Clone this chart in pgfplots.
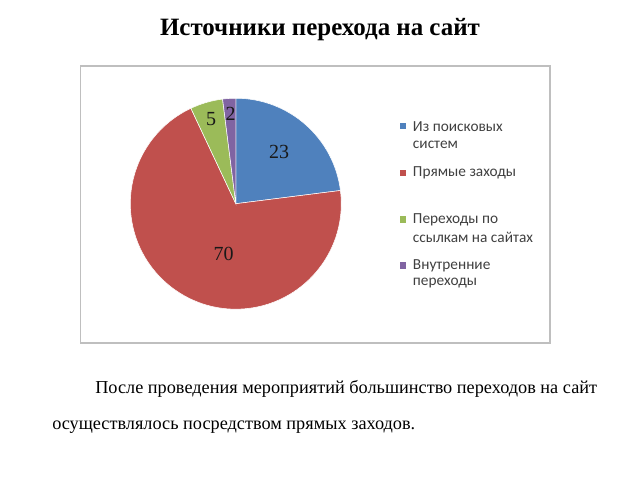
\documentclass[border=0pt]{standalone}
\usepackage{fontspec}
\setmainfont{Liberation Serif}
\newfontfamily\legfont{Carlito}
\usepackage{pgfplots}
\usepackage{pgfplotstable}
\pgfplotsset{compat=1.18}
\definecolor{cBlue}{HTML}{4F81BD}
\definecolor{cRed}{HTML}{C0504D}
\definecolor{cGreen}{HTML}{9BBB59}
\definecolor{cPurple}{HTML}{8064A2}
\definecolor{cFrame}{HTML}{BFBFBF}
\definecolor{cLeg}{HTML}{404040}

\pgfplotstableread{
key value
search 23
direct 70
links 5
internal 2
}\piedata

\pgfplotstablegetelem{0}{value}\of\piedata\edef\vA{\pgfplotsretval}
\pgfplotstablegetelem{1}{value}\of\piedata\edef\vB{\pgfplotsretval}
\pgfplotstablegetelem{2}{value}\of\piedata\edef\vC{\pgfplotsretval}
\pgfplotstablegetelem{3}{value}\of\piedata\edef\vD{\pgfplotsretval}
\pgfmathsetmacro\tot{\vA+\vB+\vC+\vD}
\pgfmathsetmacro\k{360/\tot}
\pgfmathsetmacro\aA{90}
\pgfmathsetmacro\aB{\aA-\k*\vA}
\pgfmathsetmacro\aC{\aB-\k*\vB}
\pgfmathsetmacro\aD{\aC-\k*\vC}
\pgfmathsetmacro\aE{\aD-\k*\vD}
\def\R{79.1pt}

\begin{document}
\begin{tikzpicture}
\useasboundingbox (0,0) rectangle (480pt,360pt);
\begin{axis}[
  at={(0,0)}, anchor=south west,
  scale only axis, width=480pt, height=360pt,
  xmin=0, xmax=640, ymin=0, ymax=480, y dir=reverse,
  hide axis, clip=false]
% frame
\draw[cFrame, line width=0.8pt] (axis cs:80.5,66) rectangle (axis cs:550,343);
% slices
\fill[cBlue, draw=white, line width=0.4pt] (axis cs:235.8,203.7) -- ++(\aA:\R) arc[start angle=\aA, end angle=\aB, radius=\R] -- cycle;
\fill[cRed, draw=white, line width=0.4pt] (axis cs:235.8,203.7) -- ++(\aB:\R) arc[start angle=\aB, end angle=\aC, radius=\R] -- cycle;
\fill[cGreen, draw=white, line width=0.4pt] (axis cs:235.8,203.7) -- ++(\aC:\R) arc[start angle=\aC, end angle=\aD, radius=\R] -- cycle;
\fill[cPurple, draw=white, line width=0.4pt] (axis cs:235.8,203.7) -- ++(\aD:\R) arc[start angle=\aD, end angle=\aE, radius=\R] -- cycle;
% value labels
\node[font=\fontsize{15}{17}\selectfont, text=black!90] at (axis cs:279,152) {\vA};
\node[font=\fontsize{15}{17}\selectfont, text=black!90] at (axis cs:223.5,254) {\vB};
\node[font=\fontsize{15}{17}\selectfont, text=black!90] at (axis cs:211,119.5) {\vC};
\node[font=\fontsize{15}{17}\selectfont, text=black!90] at (axis cs:230.5,114) {\vD};
% legend
\fill[cBlue] (axis cs:399.5,122.5) rectangle (axis cs:406,129);
\fill[cRed] (axis cs:399.5,169.5) rectangle (axis cs:406,176);
\fill[cGreen] (axis cs:399.5,216) rectangle (axis cs:406,222.5);
\fill[cPurple] (axis cs:399.5,262) rectangle (axis cs:406,268.5);
\begin{scope}[every node/.style={anchor=west, inner sep=0pt, text=cLeg, font=\legfont\fontsize{11.5}{13}\selectfont}]
\node at (axis cs:412.7,127) {Из поисковых};
\node at (axis cs:412.7,145) {систем};
\node at (axis cs:412.7,173) {Прямые заходы};
\node at (axis cs:412.7,219.5) {Переходы по};
\node at (axis cs:412.7,237.5) {ссылкам на сайтах};
\node at (axis cs:412.7,265.5) {Внутренние};
\node at (axis cs:412.7,283.5) {переходы};
\end{scope}
% title
\node[font=\bfseries\fontsize{18.7}{22}\selectfont] at (axis cs:320,30) {Источники перехода на сайт};
% paragraph
\node[anchor=west, inner sep=0pt, font=\fontsize{13.7}{16}\selectfont] at (axis cs:95,389) {После проведения мероприятий большинство переходов на сайт};
\node[anchor=west, inner sep=0pt, font=\fontsize{13.7}{16}\selectfont] at (axis cs:52,427) {осуществлялось посредством прямых заходов.};
\end{axis}
\end{tikzpicture}
\end{document}
